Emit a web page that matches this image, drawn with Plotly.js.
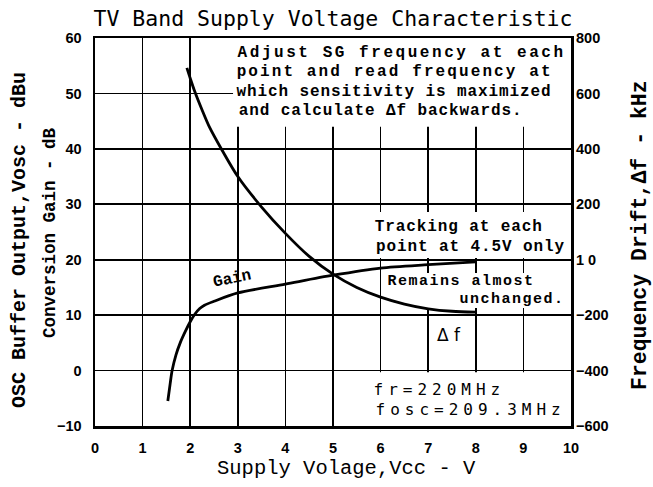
<!DOCTYPE html>
<html>
<head>
<meta charset="utf-8">
<script src="https://cdn.plot.ly/plotly-3.0.1.min.js"></script>
<style>
  html, body { margin: 0; padding: 0; background: #fff; }
  #chart { width: 653px; height: 487px; }
  .annotation[data-index="0"] .annotation-text { letter-spacing: 2.55px; }
  .annotation[data-index="1"] .annotation-text { letter-spacing: 2.1px; }
  .annotation[data-index="2"] .annotation-text,
  .annotation[data-index="3"] .annotation-text,
  .annotation[data-index="4"] .annotation-text,
  .annotation[data-index="5"] .annotation-text { letter-spacing: 0.9px; }
  .annotation[data-index="6"] .annotation-text,
  .annotation[data-index="7"] .annotation-text { letter-spacing: 1.5px; }
  .annotation[data-index="8"] .annotation-text,
  .annotation[data-index="9"] .annotation-text { letter-spacing: 5px; }
</style>
</head>
<body>
<div id="chart"></div>
<script>
// ---- data ----
// Conversion gain (left axis, dB) vs supply voltage (V)
const gainV  = [1.53, 1.58, 1.62, 1.70, 1.79, 1.90, 2.00, 2.10, 2.20, 2.30, 2.50, 3.00, 4.00, 5.00, 6.00, 7.00, 8.00];
const gainDb = [-5.5, -2.3, 0.0, 2.8, 5.0, 7.1, 8.8, 10.2, 11.2, 11.8, 12.5, 14.0, 15.6, 17.2, 18.5, 19.1, 19.6];

// Frequency drift Δf (right axis, kHz) vs supply voltage (V)
const driftV   = [1.93, 2.00, 2.10, 2.25, 2.40, 2.67, 3.00, 3.50, 4.00, 4.50, 5.00, 5.50, 6.00, 6.50, 7.00, 7.50, 8.00];
const driftKHz = [692, 655, 605, 540, 480, 395, 300, 190, 95, 12, -52, -100, -135, -160, -177, -186, -189];

// tick labels
const xTickVals  = [0, 1, 2, 3, 4, 5, 6, 7, 8, 9, 10];
const xTickText  = ['0', '1', '2', '3', '4', '5', '6', '7', '8', '9', '10'];
const yTickVals  = [-10, 0, 10, 20, 30, 40, 50, 60];
const yTickText  = ['−10', '0', '10', '20', '30', '40', '50', '60'];
const y2TickVals = [-600, -400, -200, 0, 200, 400, 600, 800];
const y2TickText = ['−600', '−400', '−200', '1 0', '200', '400', '600', '800'];

// ---- chart ----
const black = '#000';
const monoB = {family: 'Liberation Mono, monospace', size: 16, color: black, weight: 'bold'};
const monoB15 = {family: 'Liberation Mono, monospace', size: 15, color: black, weight: 'bold'};
const tickFont = {family: 'Liberation Sans, Arial, sans-serif', size: 14.5, color: black, weight: 'bold'};

const traces = [
  {x: gainV, y: gainDb, type: 'scatter', mode: 'lines', yaxis: 'y',
   line: {color: black, width: 2.8, shape: 'spline', smoothing: 0.8}, hoverinfo: 'skip'},
  {x: driftV, y: driftKHz, type: 'scatter', mode: 'lines', yaxis: 'y2',
   line: {color: black, width: 2.8, shape: 'spline', smoothing: 0.8}, hoverinfo: 'skip'}
];

function note(text, x, y, font, extra) {
  return Object.assign({text: text, x: x, y: y, xref: 'x', yref: 'y', showarrow: false,
    xanchor: 'center', yanchor: 'middle', font: font}, extra || {});
}

const annotations = [
  note('Adjust SG frequency at each', 6.43, 57.3, monoB),          // 0
  note('point and read frequency at', 6.30, 53.87, monoB),         // 1
  note('which sensitivity is maximized', 6.29, 50.26, monoB),      // 2
  note('and calculate Δf backwards.', 5.99, 46.83, monoB),         // 3
  note('Tracking at each', 7.65, 25.9, monoB),                     // 4
  note('point at 4.5V only', 7.88, 22.3, monoB),                   // 5
  note('Remains almost', 7.69, 16.16, monoB15),                    // 6
  note('unchanged.', 8.75, 12.91, monoB15),                        // 7
  note('fr=220MHz', 7.24, -3.5, {family: 'DejaVu Sans Mono, monospace', size: 16, color: black}),      // 8
  note('fosc=209.3MHz', 7.89, -7.11, {family: 'DejaVu Sans Mono, monospace', size: 16, color: black}),  // 9
  note('Δ f', 7.44, 6.42, {family: 'DejaVu Sans, sans-serif', size: 17, color: black}),               // 10
  note('Gain', 2.88, 16.6, {family: 'Liberation Mono, monospace', size: 16, color: black, weight: 'bold'}, {textangle: -12}), // 11
  note('OSC Buffer Output,Vosc - dBu', -0.1576, 0.4794,
       {family: 'Liberation Mono, monospace', size: 20, color: black, weight: 'bold'},
       {xref: 'paper', yref: 'paper', textangle: -90}),            // 12
  note('Conversion Gain - dB', -0.0945, 0.4974,
       {family: 'Liberation Mono, monospace', size: 17.5, color: black, weight: 'bold'},
       {xref: 'paper', yref: 'paper', textangle: -90}),            // 13
  note('Frequency Drift,Δf - kHz', 1.145, 0.4923,
       {family: 'Liberation Mono, monospace', size: 21.5, color: black, weight: 'bold'},
       {xref: 'paper', yref: 'paper', textangle: -90}),            // 14
  note('Supply Volage,Vcc - V', 0.5294, -0.11,
       {family: 'Liberation Mono, monospace', size: 20.5, color: black},
       {xref: 'paper', yref: 'paper'})                              // 15
];

function box(x0, x1, y0, y1) {
  return {type: 'rect', xref: 'x', yref: 'y', x0: x0, x1: x1, y0: y0, y1: y1,
    fillcolor: '#fff', line: {width: 0}, layer: 'between'};
}

const layout = {
  width: 653, height: 487,
  margin: {l: 95, r: 82, t: 38, b: 61, pad: 0},
  paper_bgcolor: '#fff', plot_bgcolor: '#fff',
  showlegend: false,
  title: {text: 'TV Band Supply Voltage Characteristic',
          font: {family: 'DejaVu Sans Mono, monospace', size: 21.5, color: black},
          xref: 'paper', x: 0.5, xanchor: 'center', yref: 'container', y: 0.963, yanchor: 'middle'},
  xaxis: {range: [0, 10], tickvals: xTickVals, ticktext: xTickText,
          showgrid: true, gridcolor: black, gridwidth: 1.7, zeroline: false,
          showline: true, mirror: true, linecolor: black, linewidth: 2.5,
          ticks: '', ticklabelstandoff: 7, tickfont: tickFont, fixedrange: true},
  yaxis: {range: [-10, 60], tickvals: yTickVals, ticktext: yTickText,
          showgrid: true, gridcolor: black, gridwidth: 1.7, zeroline: false,
          showline: true, mirror: true, linecolor: black, linewidth: 2.5,
          ticks: '', ticklabelstandoff: 8, tickfont: tickFont, fixedrange: true},
  yaxis2: {range: [-600, 800], overlaying: 'y', side: 'right',
           tickvals: y2TickVals, ticktext: y2TickText,
           showgrid: false, zeroline: false, showline: false,
           ticks: '', ticklabelstandoff: 4, tickfont: tickFont, fixedrange: true},
  shapes: [
    box(2.9, 10, 44, 60),
    box(5.84, 10, 20.3, 28.6),
    box(6.1, 10, 11.3, 17.6),
    box(5.8, 10, -10, -0.3)
  ],
  annotations: annotations
};

Plotly.newPlot('chart', traces, layout, {staticPlot: true, displayModeBar: false});
</script>
</body>
</html>
